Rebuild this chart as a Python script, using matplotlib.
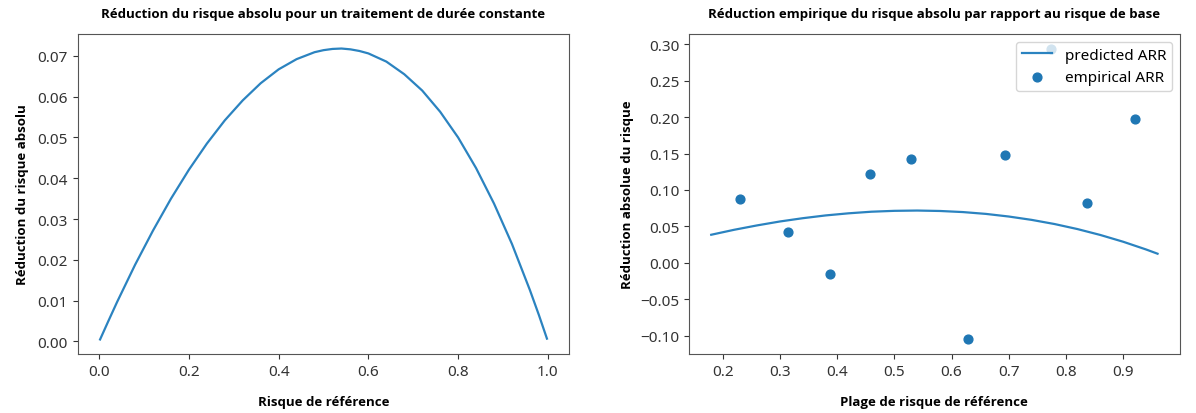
import matplotlib
matplotlib.use("Agg")
import matplotlib.pyplot as plt

plt.rcParams['font.family'] = ['Noto Sans', 'DejaVu Sans']

# left panel: ARR vs baseline risk
base_risk = [0.002, 0.02, 0.04, 0.08, 0.12, 0.16, 0.20, 0.24, 0.28, 0.32, 0.36, 0.40, 0.44, 0.48,
             0.50, 0.52, 0.54, 0.56, 0.58, 0.60, 0.64, 0.68, 0.72, 0.76, 0.80, 0.84, 0.88,
             0.92, 0.96, 0.98, 0.998]
arr_curve = [0.0005, 0.0049, 0.0097, 0.0188, 0.0272, 0.0350, 0.0421, 0.0485, 0.0542, 0.0591,
             0.0633, 0.0667, 0.0692, 0.0709, 0.0714, 0.0717, 0.0718, 0.0716, 0.0712, 0.0706,
             0.0686, 0.0655, 0.0615, 0.0563, 0.0500, 0.0425, 0.0338, 0.0239, 0.0126, 0.0065,
             0.0007]

# right panel: predicted line + empirical points
pred_risk = [0.18, 0.22, 0.26, 0.30, 0.34, 0.38, 0.42, 0.46, 0.50, 0.54, 0.58, 0.62,
             0.66, 0.70, 0.74, 0.78, 0.82, 0.86, 0.90, 0.94, 0.96]
pred_arr = [0.0386, 0.0454, 0.0514, 0.0568, 0.0613, 0.0651, 0.0680, 0.0702, 0.0714, 0.0718,
            0.0712, 0.0697, 0.0672, 0.0636, 0.0590, 0.0533, 0.0464, 0.0383, 0.0290, 0.0184, 0.0126]
emp_risk = [0.230, 0.315, 0.387, 0.458, 0.530, 0.628, 0.694, 0.774, 0.837, 0.920]
emp_arr = [0.088, 0.042, -0.015, 0.122, 0.142, -0.105, 0.148, 0.294, 0.082, 0.198]

bold = dict(fontsize=9.5, fontweight='bold', family=['Open Sans', 'DejaVu Sans'])

fig = plt.figure(figsize=(11.96, 4.14), dpi=100)
ax1 = fig.add_axes([0.065, 0.1425, 0.411, 0.773])
ax2 = fig.add_axes([0.576, 0.1425, 0.4105, 0.773])

ax1.plot(base_risk, arr_curve, color='#2b83c0', lw=1.6)
ax1.set_title("Réduction du risque absolu pour un traitement de durée constante", pad=12, **bold)
ax1.set_xlabel("Risque de référence", labelpad=12, **bold)
ax1.set_ylabel("Réduction du risque absolu", labelpad=6, **bold)

ax2.plot(pred_risk, pred_arr, color='#2b83c0', lw=1.6, label='predicted ARR')
ax2.scatter(emp_risk, emp_arr, color='#1f77b4', s=40, label='empirical ARR')
ax2.set_title("Réduction empirique du risque absolu par rapport au risque de base", pad=12, **bold)
ax2.set_xlabel("Plage de risque de référence", labelpad=12, **bold)
ax2.set_ylabel("Réduction absolue du risque", labelpad=4, **bold)
ax2.legend(loc='upper right', fontsize=11)

for ax in (ax1, ax2):
    ax.tick_params(labelsize=11, colors='#333333')
    for sp in ax.spines.values():
        sp.set_color('#555555')

fig.savefig("out.png", dpi=100)
